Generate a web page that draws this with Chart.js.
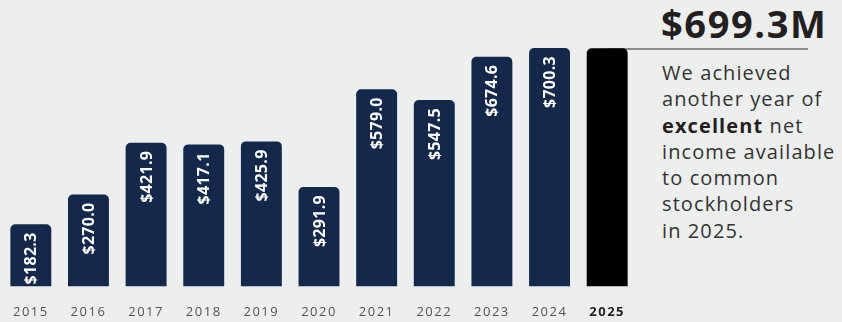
<!DOCTYPE html>
<html>
<head>
<meta charset="utf-8">
<script src="https://cdn.jsdelivr.net/npm/chart.js@4.4.1/dist/chart.umd.min.js"></script>
<style>
  html, body { margin: 0; padding: 0; background: #edeeee; }
  body { width: 842px; height: 322px; position: relative; overflow: hidden; font-family: "Open Sans", sans-serif; }
  #wrap { position: absolute; left: 0; top: 0; width: 640px; height: 336px; }
  #rule { position: absolute; left: 607px; top: 48px; width: 201px; height: 2px; background: #8a8a8a; }
  #big { position: absolute; left: 661px; top: -3px; font-size: 38px; font-weight: 700; color: #231f20; letter-spacing: 1.6px; }
  #blurb { position: absolute; left: 662px; top: 60px; width: 190px; font-size: 20px; line-height: 26.3px; color: #333; letter-spacing: 1.1px; }
  #blurb b { font-weight: 700; color: #231f20; }
</style>
</head>
<body>
<div id="rule"></div>
<div id="wrap"><canvas id="myChart"></canvas></div>
<div id="big">$699.3M</div>
<div id="blurb">We achieved<br>another year of<br><b>excellent</b> net<br>income available<br>to common<br>stockholders<br>in 2025.</div>
<script>
// datos del grafico
const years = ['2015', '2016', '2017', '2018', '2019', '2020', '2021', '2022', '2023', '2024', '2025'];
const netIncome = [182.3, 270.0, 421.9, 417.1, 425.9, 291.9, 579.0, 547.5, 674.6, 700.3, 699.3];
const barLabels = ['$182.3', '$270.0', '$421.9', '$417.1', '$425.9', '$291.9', '$579.0', '$547.5', '$674.6', '$700.3', ''];

const navy = '#13284a';
const barColors = years.map((y) => (y === '2025' ? '#000000' : navy));

// espaciado de letras para los años del eje
const tickSpacing = {
  id: 'tickSpacing',
  beforeDraw(chart) {
    chart.ctx.letterSpacing = '1.5px';
  },
  beforeDatasetsDraw(chart) {
    chart.ctx.letterSpacing = '0px';
  }
};

// etiquetas giradas dentro de las barras
const insideLabels = {
  id: 'insideLabels',
  afterDatasetsDraw(chart) {
    const ctx = chart.ctx;
    const meta = chart.getDatasetMeta(0);
    ctx.save();
    ctx.letterSpacing = '0.3px';
    ctx.fillStyle = '#ffffff';
    ctx.font = 'bold 16px "Open Sans", sans-serif';
    ctx.textAlign = 'right';
    ctx.textBaseline = 'middle';
    meta.data.forEach((bar, i) => {
      if (!barLabels[i]) return;
      ctx.save();
      ctx.translate(bar.x, bar.y + 8);
      ctx.rotate(-Math.PI / 2);
      ctx.fillText(barLabels[i], 0, 1);
      ctx.restore();
    });
    ctx.restore();
  }
};

const ctx = document.getElementById('myChart').getContext('2d');
new Chart(ctx, {
  type: 'bar',
  data: {
    labels: years,
    datasets: [{
      data: netIncome,
      backgroundColor: barColors,
      borderRadius: { topLeft: 5, topRight: 5, bottomLeft: 0, bottomRight: 0 },
      borderSkipped: 'bottom',
      barPercentage: 0.71,
      categoryPercentage: 1.0,
    }],
  },
  options: {
    responsive: true,
    maintainAspectRatio: false,
    animation: false,
    layout: { padding: { left: 2, right: 4, top: 14, bottom: 6 } },
    plugins: { legend: { display: false }, tooltip: { enabled: false } },
    scales: {
      x: {
        grid: { display: false },
        border: { display: false },
        ticks: {
          padding: 10,
          color: (c) => (c.index === 10 ? '#231f20' : '#555555'),
          font: (c) => ({ family: '"Open Sans", sans-serif', size: 13, weight: c.index === 10 ? 'bold' : 'normal' }),
        },
      },
      y: {
        display: false,
        beginAtZero: true,
        max: 800,
      },
    },
  },
  plugins: [tickSpacing, insideLabels],
});
</script>
</body>
</html>
